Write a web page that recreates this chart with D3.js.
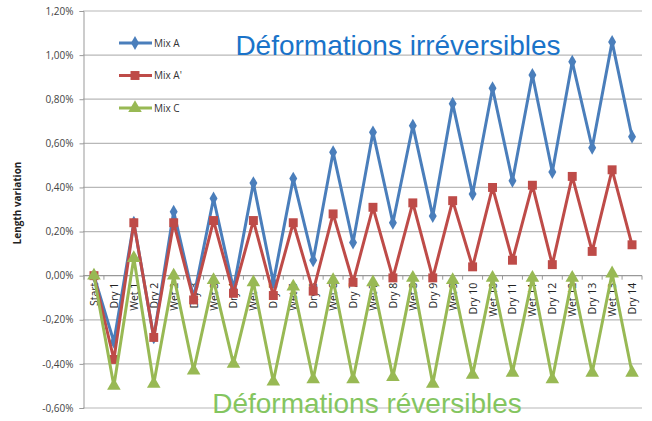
<!DOCTYPE html>
<html><head><meta charset="utf-8">
<script src="https://cdn.jsdelivr.net/npm/d3@7"></script>
<style>body{margin:0;background:#fff;}svg{display:block;}</style>
</head><body>
<svg id="c" width="652" height="421"></svg>
<script>
const categories = ["Start","Dry 1","Wet 1","Dry 2","Wet 2","Dry 3","Wet 3","Dry 4","Wet 4","Dry 5","Wet 5","Dry 6","Wet 6","Dry 7","Wet 7","Dry 8","Wet 8","Dry 9","Wet 9","Dry 10","Wet 10","Dry 11","Wet 11","Dry 12","Wet 12","Dry 13","Wet 13","Dry 14"];
const mixA  = [0,-0.30,0.24,-0.28,0.29,-0.10,0.35,-0.06,0.42,-0.03,0.44,0.07,0.56,0.15,0.65,0.24,0.68,0.27,0.78,0.37,0.85,0.43,0.91,0.47,0.97,0.58,1.06,0.63];
const mixAp = [0,-0.38,0.24,-0.28,0.24,-0.11,0.25,-0.08,0.25,-0.09,0.24,-0.07,0.28,-0.03,0.31,-0.01,0.33,-0.01,0.34,0.04,0.40,0.07,0.41,0.05,0.45,0.11,0.48,0.14];
const mixC  = [0,-0.50,0.08,-0.49,0.00,-0.43,-0.02,-0.40,-0.03,-0.48,-0.05,-0.47,-0.02,-0.47,-0.03,-0.46,-0.01,-0.49,-0.02,-0.45,-0.01,-0.44,-0.01,-0.47,-0.01,-0.44,0.01,-0.44];
const yTicks = [-0.6,-0.4,-0.2,0,0.2,0.4,0.6,0.8,1.0,1.2];
const seriesNames = ["Mix A","Mix A'","Mix C"];
const seriesColors = ["#4a7ebb","#be4b48","#98b954"];
const seriesSymbols = [d3.symbolDiamond, d3.symbolSquare, d3.symbolTriangle];
const seriesSizes = [55, 80, 80];
const titleTop = "Déformations irréversibles";
const titleBottom = "Déformations réversibles";
const yLabel = "Length variation";

const svg = d3.select("#c");
const x = d3.scalePoint().domain(categories).range([84,642]).padding(0.5);
const y = d3.scaleLinear().domain([-0.6,1.2]).range([408,11]);
const fmt = v => v.toFixed(2).replace(".",",") + "%";

// gridlines
svg.append("g").selectAll("line").data(yTicks).join("line")
  .attr("x1",83).attr("x2",642).attr("y1",d=>y(d)).attr("y2",d=>y(d))
  .attr("stroke", d=> d===0 ? "#999" : "#b8b8b8").attr("stroke-width",1.2);

// y axis
const ya = svg.append("g").attr("transform","translate(83.5,0)")
  .call(d3.axisLeft(y).tickValues(yTicks).tickFormat(fmt).tickSize(4).tickPadding(6));
ya.select(".domain").attr("stroke","#999");
ya.selectAll(".tick line").attr("stroke","#999");
ya.selectAll("text").attr("font-family","Open Sans, DejaVu Sans, sans-serif").attr("font-size",10).attr("fill","#444");

// x tick marks at zero line between categories
const step = x.step();
const bounds = d3.range(categories.length+1).map(i => 84 + i*step);
svg.append("g").selectAll("line").data(bounds).join("line")
  .attr("x1",d=>d).attr("x2",d=>d).attr("y1",y(0)).attr("y2",y(0)+4)
  .attr("stroke","#999");

// x labels
svg.append("g").selectAll("text").data(categories).join("text")
  .attr("transform",d=>`translate(${x(d)+4},${y(0)+7}) rotate(-90)`)
  .attr("text-anchor","end")
  .attr("font-family","Open Sans, DejaVu Sans, sans-serif").attr("font-size",10.5).attr("fill","#222")
  .text(d=>d);

// y label
svg.append("text").attr("transform","translate(21,203) rotate(-90)")
  .attr("text-anchor","middle").attr("font-family","Open Sans, DejaVu Sans, sans-serif")
  .attr("font-size",10).attr("font-weight","bold").attr("fill","#222").text(yLabel);

// series
const allSeries = [mixA, mixAp, mixC];
allSeries.forEach((data,i)=>{
  const line = d3.line().x((d,j)=>x(categories[j])).y(d=>y(d));
  const g = svg.append("g");
  g.append("path").datum(data).attr("d",line).attr("fill","none")
    .attr("stroke",seriesColors[i]).attr("stroke-width",3).attr("stroke-linejoin","round");
  g.selectAll("path.m").data(data).join("path").attr("class","m")
    .attr("transform",(d,j)=>`translate(${x(categories[j])},${y(d)})`)
    .attr("d",d3.symbol().type(seriesSymbols[i]).size(seriesSizes[i]))
    .attr("fill",seriesColors[i]);
});

// legend
const lg = svg.append("g");
seriesNames.forEach((n,i)=>{
  const ly = 43 + i*32.5;
  lg.append("line").attr("x1",119).attr("x2",152).attr("y1",ly).attr("y2",ly)
    .attr("stroke",seriesColors[i]).attr("stroke-width",3);
  lg.append("path").attr("transform",`translate(135,${ly})`)
    .attr("d",d3.symbol().type(seriesSymbols[i]).size(seriesSizes[i])).attr("fill",seriesColors[i]);
  lg.append("text").attr("x",154).attr("y",ly+3.5)
    .attr("font-family","Open Sans, DejaVu Sans, sans-serif").attr("font-size",10).attr("fill","#333").text(n);
});

// annotations
svg.append("text").attr("x",398).attr("y",55).attr("text-anchor","middle")
  .attr("font-family","Liberation Sans, Arial, sans-serif").attr("font-size",28).attr("fill","#1a73c9").text(titleTop);
svg.append("text").attr("x",367).attr("y",413).attr("text-anchor","middle")
  .attr("font-family","Liberation Sans, Arial, sans-serif").attr("font-size",28).attr("fill","#84c55f").text(titleBottom);
</script>
</body></html>
